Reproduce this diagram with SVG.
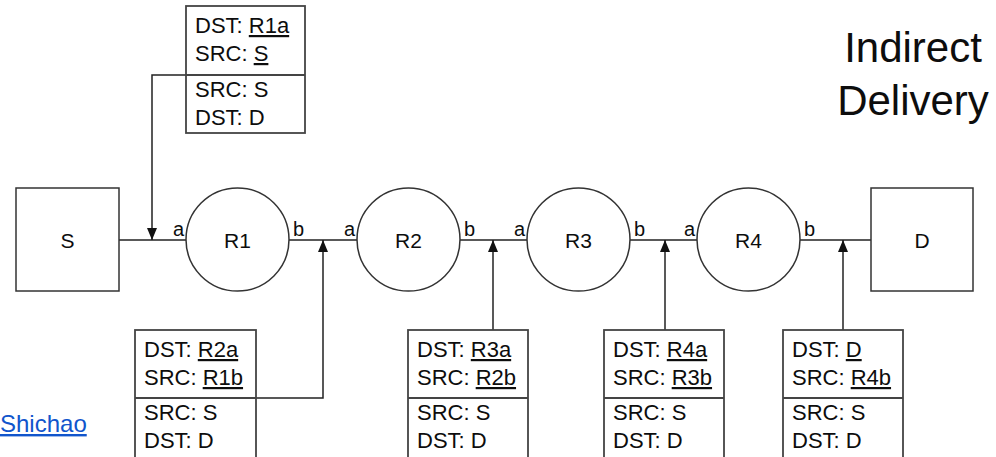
<svg xmlns="http://www.w3.org/2000/svg" width="996" height="457" viewBox="0 0 996 457">
  <style>
    text { font-family: "Liberation Sans", Arial, sans-serif; fill: #0d0d0d; }
    .node { fill: #fff; stroke: #333; stroke-width: 1.5; }
    .hdr { fill: #fff; stroke: #444; stroke-width: 1.8; }
    .lbl { font-size: 21px; text-anchor: middle; }
    .port { font-size: 20px; }
    .pk { font-size: 22px; }
    .u { text-decoration: underline; }
    .wire { fill: none; stroke: #222; stroke-width: 1.5; }
    .title { font-size: 42px; text-anchor: middle; }
    .link { font-size: 24px; fill: #1155cc; text-decoration: underline; }
  </style>
  <defs>
    <marker id="tip" viewBox="0 0 12 10" refX="12" refY="5" markerWidth="12" markerHeight="10" markerUnits="userSpaceOnUse" orient="auto">
      <path d="M0,0 L12,5 L0,10 z" fill="#111"/>
    </marker>
  </defs>

  <rect width="996" height="457" fill="#fff"/>

  <!-- connectors: the wire between hosts/routers and the header arrows -->
  <g id="connectors">
    <line class="wire" x1="119" y1="240" x2="186" y2="240"/>
    <line class="wire" x1="289" y1="240" x2="357" y2="240"/>
    <line class="wire" x1="460" y1="240" x2="527" y2="240"/>
    <line class="wire" x1="630" y1="240" x2="697" y2="240"/>
    <line class="wire" x1="800" y1="240" x2="871" y2="240"/>
    <path class="wire" d="M186,75 H152 V240" marker-end="url(#tip)"/>
    <path class="wire" d="M256,398 H323 V240" marker-end="url(#tip)"/>
    <path class="wire" d="M493,330 V240" marker-end="url(#tip)"/>
    <path class="wire" d="M665,330 V240" marker-end="url(#tip)"/>
    <path class="wire" d="M843,330 V240" marker-end="url(#tip)"/>
  </g>

  <!-- hosts -->
  <g id="host-S">
    <rect class="node" x="16" y="188" width="103" height="103"/>
    <text class="lbl" x="67.5" y="248">S</text>
  </g>
  <g id="host-D">
    <rect class="node" x="871" y="188" width="102" height="103"/>
    <text class="lbl" x="922" y="248">D</text>
  </g>

  <!-- routers -->
  <g id="router-R1">
    <circle class="node" cx="237.5" cy="239.5" r="51.5"/>
    <text class="lbl" x="237.5" y="248">R1</text>
    <text class="port" x="173" y="236">a</text>
    <text class="port" x="293" y="236">b</text>
  </g>
  <g id="router-R2">
    <circle class="node" cx="408.5" cy="239.5" r="51.5"/>
    <text class="lbl" x="408.5" y="248">R2</text>
    <text class="port" x="344" y="236">a</text>
    <text class="port" x="464" y="236">b</text>
  </g>
  <g id="router-R3">
    <circle class="node" cx="578.5" cy="239.5" r="51.5"/>
    <text class="lbl" x="578.5" y="248">R3</text>
    <text class="port" x="514" y="236">a</text>
    <text class="port" x="634" y="236">b</text>
  </g>
  <g id="router-R4">
    <circle class="node" cx="748.5" cy="239.5" r="51.5"/>
    <text class="lbl" x="748.5" y="248">R4</text>
    <text class="port" x="684" y="236">a</text>
    <text class="port" x="804" y="236">b</text>
  </g>

  <!-- frame headers: link-layer (top) over network-layer (bottom) -->
  <g id="frame-S-R1">
    <rect class="hdr" x="186" y="6" width="119" height="127"/>
    <line class="hdr" x1="186" y1="75" x2="305" y2="75"/>
    <text class="pk" x="195" y="33">DST: <tspan class="u">R1a</tspan></text>
    <text class="pk" x="195" y="61">SRC: <tspan class="u">S</tspan></text>
    <text class="pk" x="195" y="97">SRC: S</text>
    <text class="pk" x="195" y="125">DST: D</text>
  </g>
  <g id="frame-R1-R2">
    <rect class="hdr" x="135" y="330" width="121" height="140"/>
    <line class="hdr" x1="135" y1="398" x2="256" y2="398"/>
    <text class="pk" x="144" y="357">DST: <tspan class="u">R2a</tspan></text>
    <text class="pk" x="144" y="385">SRC: <tspan class="u">R1b</tspan></text>
    <text class="pk" x="144" y="420">SRC: S</text>
    <text class="pk" x="144" y="448">DST: D</text>
  </g>
  <g id="frame-R2-R3">
    <rect class="hdr" x="408" y="330" width="120" height="140"/>
    <line class="hdr" x1="408" y1="398" x2="528" y2="398"/>
    <text class="pk" x="417" y="357">DST: <tspan class="u">R3a</tspan></text>
    <text class="pk" x="417" y="385">SRC: <tspan class="u">R2b</tspan></text>
    <text class="pk" x="417" y="420">SRC: S</text>
    <text class="pk" x="417" y="448">DST: D</text>
  </g>
  <g id="frame-R3-R4">
    <rect class="hdr" x="604" y="330" width="120" height="140"/>
    <line class="hdr" x1="604" y1="398" x2="724" y2="398"/>
    <text class="pk" x="613" y="357">DST: <tspan class="u">R4a</tspan></text>
    <text class="pk" x="613" y="385">SRC: <tspan class="u">R3b</tspan></text>
    <text class="pk" x="613" y="420">SRC: S</text>
    <text class="pk" x="613" y="448">DST: D</text>
  </g>
  <g id="frame-R4-D">
    <rect class="hdr" x="783" y="330" width="120" height="140"/>
    <line class="hdr" x1="783" y1="398" x2="903" y2="398"/>
    <text class="pk" x="792" y="357">DST: <tspan class="u">D</tspan></text>
    <text class="pk" x="792" y="385">SRC: <tspan class="u">R4b</tspan></text>
    <text class="pk" x="792" y="420">SRC: S</text>
    <text class="pk" x="792" y="448">DST: D</text>
  </g>

  <!-- title and credit -->
  <g id="title">
    <text class="title" x="913" y="62">Indirect</text>
    <text class="title" x="913" y="115">Delivery</text>
  </g>
  <text class="link" x="0" y="432">Shichao</text>
</svg>
